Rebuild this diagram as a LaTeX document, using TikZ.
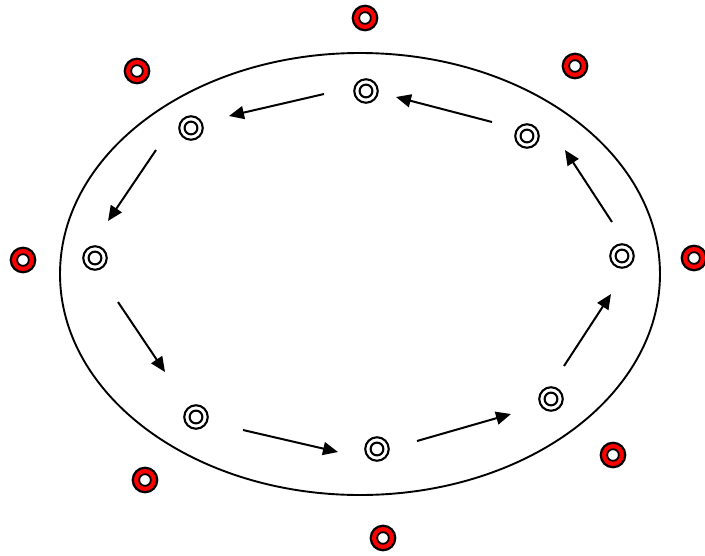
\documentclass[tikz,border=0pt]{standalone}
\usetikzlibrary{arrows.meta}
\begin{document}
\begin{tikzpicture}[x=1pt,y=-1pt,
  sensor/.style={circle,draw=black,line width=2.1pt,minimum size=23.5pt,inner sep=0pt,
    path picture={\draw[line width=2.1pt] (path picture bounding box.center) circle (6.4pt);}},
  beacon/.style={circle,draw=black,line width=2.2pt,fill=red,minimum size=24.5pt,inner sep=0pt,
    path picture={\draw[line width=1.8pt,fill=white] (path picture bounding box.center) circle (5.8pt);}},
  flow/.style={line width=2pt,-{Triangle[length=15pt,width=13pt]}}]
\useasboundingbox (0,0) rectangle (705,555);
\draw[line width=1.9pt] (360,274) ellipse (300 and 221);
% inner nodes
\node[sensor] (n1) at (366,91) {};
\node[sensor] (n2) at (191,128) {};
\node[sensor] (n3) at (95,258) {};
\node[sensor] (n4) at (196,417) {};
\node[sensor] (n5) at (377,449) {};
\node[sensor] (n6) at (551,399) {};
\node[sensor] (n7) at (622,256) {};
\node[sensor] (n8) at (527,136) {};
% outer red nodes
\node[beacon] (r1) at (365,18) {};
\node[beacon] (r2) at (137,71) {};
\node[beacon] (r3) at (575,66) {};
\node[beacon] (r4) at (23,260) {};
\node[beacon] (r5) at (694,258) {};
\node[beacon] (r6) at (145,480) {};
\node[beacon] (r7) at (613,455) {};
\node[beacon] (r8) at (383,538) {};
% arrow ends
\coordinate (a1s) at (324,94);  \coordinate (a1e) at (229,116);
\coordinate (a2s) at (156,150); \coordinate (a2e) at (108,221);
\coordinate (a3s) at (118,302); \coordinate (a3e) at (165,372);
\coordinate (a4s) at (243,430); \coordinate (a4e) at (338,452);
\coordinate (a5s) at (417,441); \coordinate (a5e) at (511,414);
\coordinate (a6s) at (564,366); \coordinate (a6e) at (611,294);
\coordinate (a7s) at (612,222); \coordinate (a7e) at (565,150);
\coordinate (a8s) at (492,122); \coordinate (a8e) at (396,97);
\draw[flow] (a1s) -- (a1e);
\draw[flow] (a2s) -- (a2e);
\draw[flow] (a3s) -- (a3e);
\draw[flow] (a4s) -- (a4e);
\draw[flow] (a5s) -- (a5e);
\draw[flow] (a6s) -- (a6e);
\draw[flow] (a7s) -- (a7e);
\draw[flow] (a8s) -- (a8e);
\end{tikzpicture}
\end{document}
